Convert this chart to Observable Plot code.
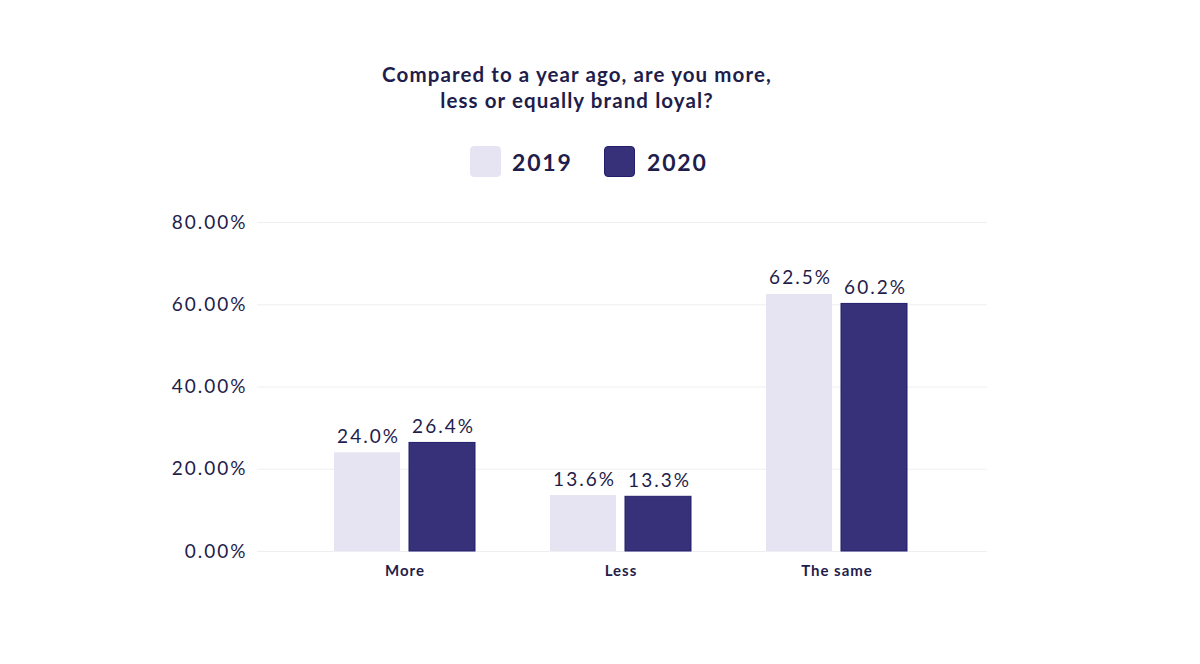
<!DOCTYPE html>
<html><head><meta charset="utf-8">
<script src="https://cdn.jsdelivr.net/npm/d3@7"></script>
<script src="https://cdn.jsdelivr.net/npm/@observablehq/plot@0.6"></script>
<style>
body{margin:0;background:#fff;font-family:Lato,"Noto Sans",sans-serif;color:#1f1d4b}
#wrap{width:1200px;height:664px;position:relative;overflow:hidden}
#head{position:relative;height:200px}
#title{position:absolute;left:0;width:1154px;top:61px;text-align:center;font-weight:700;font-size:20.5px;letter-spacing:1.1px;line-height:26px;color:#1f1d4b}
.sw{position:absolute;width:31px;height:31px;border-radius:4px;box-sizing:border-box}
.lt{position:absolute;font-weight:700;font-size:23px;letter-spacing:1.8px;line-height:32px;color:#1f1d4b}
#chart svg{display:block}
</style></head>
<body><div id="wrap"><div id="head"><div id="title">Compared to a year ago, are you more,<br>less or equally brand loyal?</div></div><div id="chart"></div></div>
<script>
const categories = ["More", "Less", "The same"];
const years = ["2019", "2020"];
const values2019 = [24.0, 13.6, 62.5];
const values2020 = [26.4, 13.3, 60.2];
const yTicks = [0, 20, 40, 60, 80];

const colors = {"2019": "#e6e4f2", "2020": "#363179"};
const strokes = {"2019": "#e6e4f2", "2020": "#221e6c"};

// legend
const head = document.getElementById("head");
const legendPos = [{sw: 470, tx: 512}, {sw: 604, tx: 647}];
years.forEach((y, i) => {
  const s = document.createElement("div");
  s.className = "sw";
  s.style.left = legendPos[i].sw + "px";
  s.style.top = "146px";
  s.style.background = colors[y];
  s.style.border = "1px solid " + strokes[y];
  head.appendChild(s);
  const t = document.createElement("div");
  t.className = "lt";
  t.style.left = legendPos[i].tx + "px";
  t.style.top = "146px";
  t.textContent = y;
  head.appendChild(t);
});

const d19 = categories.map((c, i) => ({category: c, value: values2019[i]}));
const d20 = categories.map((c, i) => ({category: c, value: values2020[i]}));

const chart = Plot.plot({
  width: 1200,
  height: 464,
  marginTop: 22,
  marginBottom: 113,
  marginLeft: 257,
  marginRight: 213,
  style: {fontFamily: "Lato, 'Noto Sans', sans-serif", color: "#1f1d4b", background: "#fff"},
  x: {domain: categories, range: [297, 945], paddingInner: 0.347, paddingOuter: 0.1735, label: null},
  y: {domain: [0, 80], label: null},
  marks: [
    Plot.ruleY(yTicks, {stroke: "#efeff3", strokeWidth: 1.2}),
    Plot.axisY(yTicks, {tickSize: 0, tickPadding: 10, tickFormat: d => d.toFixed(2) + "%", fontSize: 19, fill: "#1f1d4b", label: null}),
    Plot.axisX({tickSize: 0, tickPadding: 14, fontSize: 15, fontWeight: 700, fill: "#1f1d4b", label: null}),
    Plot.barY(d19, {x: "category", y: "value", insetRight: 75, fill: colors["2019"]}),
    Plot.barY(d20, {x: "category", y: "value", insetLeft: 75, fill: colors["2020"], stroke: strokes["2020"], strokeWidth: 1}),
    Plot.text(d19, {x: "category", y: "value", dx: -36.5, dy: -10, lineAnchor: "bottom", text: d => d.value.toFixed(1) + "%", fontSize: 19, fill: "#1f1d4b"}),
    Plot.text(d20, {x: "category", y: "value", dx: 38.5, dy: -10, lineAnchor: "bottom", text: d => d.value.toFixed(1) + "%", fontSize: 19, fill: "#1f1d4b"})
  ]
});
const svg = d3.select(chart);
svg.selectAll('g[aria-label="y-axis tick label"]').style("letter-spacing", "2px");
svg.selectAll('g[aria-label="x-axis tick label"]').style("letter-spacing", "1px");
svg.selectAll('g[aria-label="text"]').style("letter-spacing", "2px");
document.getElementById("chart").appendChild(chart);
</script></body></html>
